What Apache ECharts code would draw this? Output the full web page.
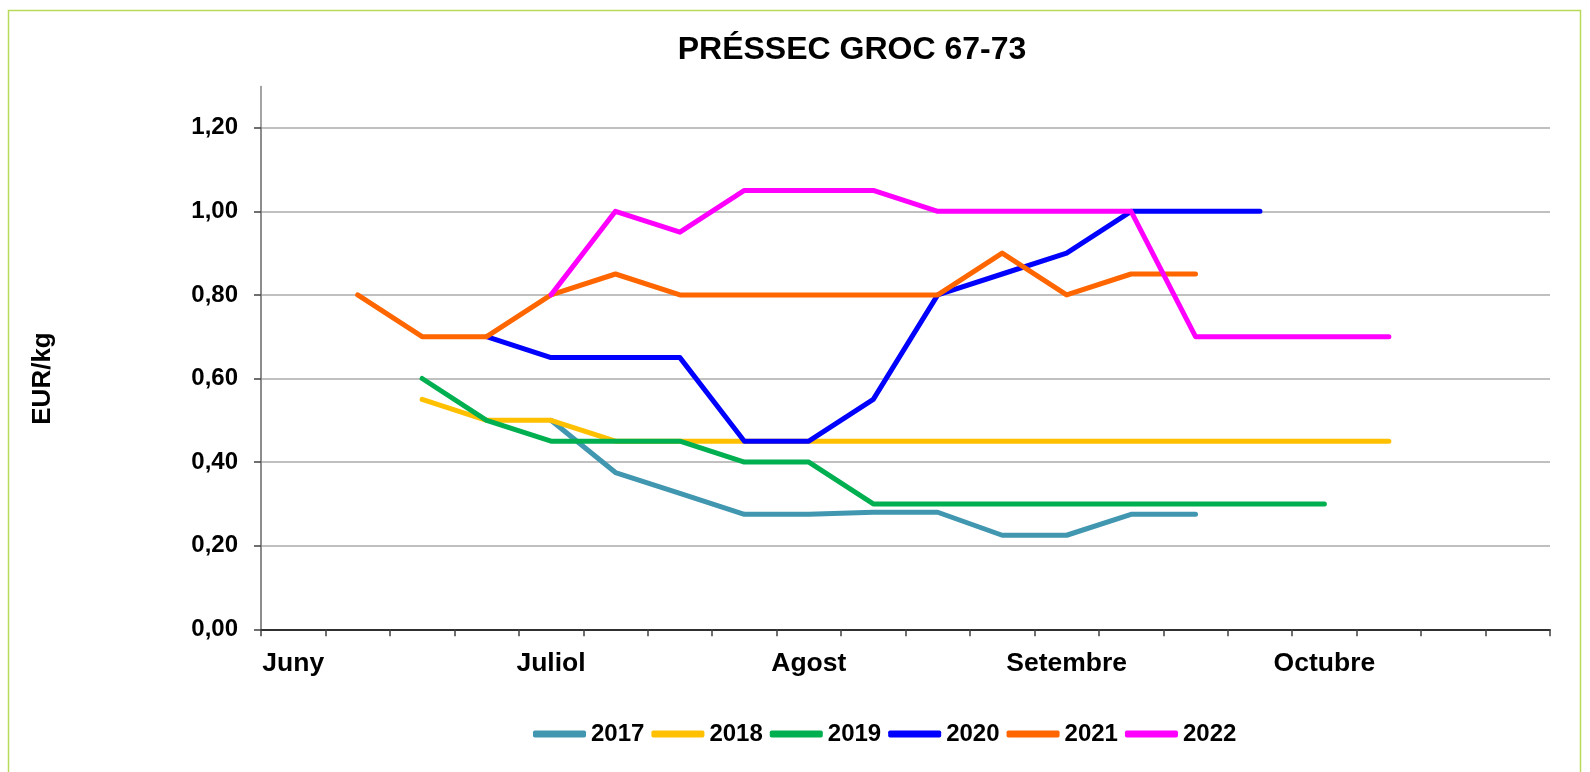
<!DOCTYPE html>
<html>
<head>
<meta charset="utf-8">
<script src="https://cdn.jsdelivr.net/npm/echarts@6/dist/echarts.min.js"></script>
<style>
html,body{margin:0;padding:0;background:#fff;}
#c{width:1590px;height:772px;}
</style>
</head>
<body>
<div id="c"></div>
<script>
const categories = ['Juny','','','','Juliol','','','','Agost','','','','Setembre','','','','Octubre','','',''];
const yTicks = [0, 0.2, 0.4, 0.6, 0.8, 1.0, 1.2];
const years = ['2017','2018','2019','2020','2021','2022'];
const colors = ['#4197B0','#FFC000','#00B050','#0000FF','#FF6600','#FF00FF'];
const s2017 = [null,null,null,null,0.50,0.375,0.325,0.275,0.275,0.28,0.28,0.225,0.225,0.275,0.275,null,null,null,null,null];
const s2018 = [null,null,0.55,0.50,0.50,0.45,0.45,0.45,0.45,0.45,0.45,0.45,0.45,0.45,0.45,0.45,0.45,0.45,null,null];
const s2019 = [null,null,0.60,0.50,0.45,0.45,0.45,0.40,0.40,0.30,0.30,0.30,0.30,0.30,0.30,0.30,0.30,null,null,null];
const s2020 = [null,null,null,0.70,0.65,0.65,0.65,0.45,0.45,0.55,0.80,0.85,0.90,1.00,1.00,1.00,null,null,null,null];
const s2021 = [null,0.80,0.70,0.70,0.80,0.85,0.80,0.80,0.80,0.80,0.80,0.90,0.80,0.85,0.85,null,null,null,null,null];
const s2022 = [null,null,null,null,0.80,1.00,0.95,1.05,1.05,1.05,1.00,1.00,1.00,1.00,0.70,0.70,0.70,0.70,null,null];
const seriesData = [s2017, s2018, s2019, s2020, s2021, s2022];

const FONT = '"Liberation Sans", Arial, sans-serif';
const chart = echarts.init(document.getElementById('c'), null, {renderer: 'canvas'});
const option = {
  animation: false,
  backgroundColor: '#fff',
  title: {
    text: 'PRÉSSEC GROC 67-73',
    left: 847, top: 29, textAlign: 'center',
    textStyle: {fontFamily: FONT, fontWeight: 'bold', fontSize: 32, color: '#000'}
  },
  legend: {
    left: 528, top: 717, orient: 'horizontal',
    icon: 'roundRect',
    itemWidth: 53, itemHeight: 7, itemGap: 7,
    data: years,
    itemStyle: {borderRadius: 3.5},
    textStyle: {fontFamily: FONT, fontWeight: 'bold', fontSize: 24, color: '#000'}
  },
  graphic: [{
    type: 'rect', silent: true, z: -10,
    shape: {x: 8.5, y: 10.5, width: 1572, height: 800},
    style: {fill: 'none', stroke: '#B9D95A', lineWidth: 1.5}
  }],
  grid: [
    {left: 261, right: 40, top: 86.5, bottom: 142.7},
    {left: 261, right: 40, top: 127.7, bottom: 142.7}
  ],
  xAxis: [
    {gridIndex: 0, type: 'category', data: categories, show: false},
    {gridIndex: 1, type: 'category', data: categories, boundaryGap: true,
     axisLine: {show: true, lineStyle: {color: '#000', width: 1.5}},
     axisTick: {show: true, interval: 0, length: 7, lineStyle: {color: '#404040', width: 1.5}},
     axisLabel: {interval: 0, margin: 21, fontFamily: FONT, fontWeight: 'bold', fontSize: 26.5, color: '#000'},
     splitLine: {show: false}}
  ],
  yAxis: [
    {gridIndex: 0, type: 'value', min: 0, max: 1.3,
     axisLine: {show: true, lineStyle: {color: '#868686', width: 1.5}},
     axisTick: {show: false}, axisLabel: {show: false}, splitLine: {show: false}},
    {gridIndex: 1, type: 'value', min: yTicks[0], max: yTicks[yTicks.length-1], interval: 0.2,
     name: 'EUR/kg', nameLocation: 'middle', nameGap: 205, nameRotate: 90,
     nameTextStyle: {fontFamily: FONT, fontWeight: 'bold', fontSize: 26, color: '#000'},
     axisLine: {show: true, lineStyle: {color: '#868686', width: 1.5}},
     axisTick: {show: true, length: 7, lineStyle: {color: '#404040', width: 1.5}},
     axisLabel: {margin: 23, fontFamily: FONT, fontWeight: 'bold', fontSize: 24, color: '#000',
       formatter: v => v.toFixed(2).replace('.', ',')},
     splitLine: {show: true, lineStyle: {color: '#C0C0C0', width: 2}}}
  ],
  series: years.map((y, i) => ({
    name: y, type: 'line', xAxisIndex: 1, yAxisIndex: 1,
    data: seriesData[i], symbol: 'none', connectNulls: false,
    color: colors[i],
    lineStyle: {color: colors[i], width: 5, cap: 'round', join: 'round'},
    itemStyle: {color: colors[i]},
    z: 2 + i
  }))
};
chart.setOption(option);
</script>
</body>
</html>
